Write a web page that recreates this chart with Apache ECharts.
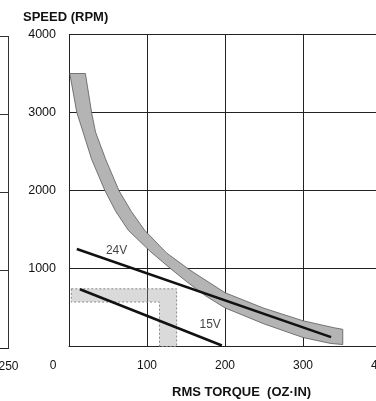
<!DOCTYPE html>
<html>
<head>
<meta charset="utf-8">
<script src="https://cdn.jsdelivr.net/npm/echarts@6/dist/echarts.min.js"></script>
<style>
  html, body { margin: 0; background: #fff; }
  #chart { width: 376px; height: 401px; }
</style>
</head>
<body>
<div id="chart"></div>
<script>
// shaded speed/torque band (torque oz-in, speed rpm)
var bandOuterTorque = [21, 29, 34, 47, 64, 80, 97, 125, 155, 200, 250, 300, 340, 351]
var bandOuterSpeed = [3500, 3000, 2750, 2400, 2000, 1730, 1490, 1200, 980, 690, 490, 330, 240, 220]
var bandInnerTorque = [1, 10, 18, 29, 46, 60, 76, 104, 130, 151, 175, 200, 250, 300, 335, 351]
var bandInnerSpeed = [3500, 3000, 2750, 2400, 2000, 1730, 1490, 1220, 1000, 830, 650, 495, 290, 115, 40, 25]

// dotted L-shaped zone under the 15V line
var zoneTorque = [3, 138, 138, 116, 116, 3]
var zoneSpeed = [740, 740, 0, 0, 570, 570]

// supply voltage lines
var line24Torque = [10, 336]
var line24Speed = [1250, 120]
var line15Torque = [14, 196]
var line15Speed = [734, 13]

var lineNames = ['24V', '15V']
var lineLabelTorque = [61, 181]
var lineLabelSpeed = [1225, 280]

var font = 'Liberation Sans, Arial, Helvetica, sans-serif'

function pairs(xs, ys) {
  return xs.map(function (x, i) { return [x, ys[i]] })
}

var bandPoints = pairs(bandOuterTorque, bandOuterSpeed)
  .concat(pairs(bandInnerTorque, bandInnerSpeed).reverse())
var zonePoints = pairs(zoneTorque, zoneSpeed)

function polygonSeries(points, style, z) {
  return {
    type: 'custom',
    xAxisIndex: 0,
    yAxisIndex: 0,
    z: z,
    silent: true,
    data: [0],
    renderItem: function (params, api) {
      return {
        type: 'polygon',
        shape: { points: points.map(function (p) { return api.coord(p) }) },
        style: style
      }
    }
  }
}

var chart = echarts.init(document.getElementById('chart'))

chart.setOption({
  animation: false,
  backgroundColor: '#fff',
  title: [{
    text: 'SPEED (RPM)',
    left: 23,
    top: 11,
    padding: 0,
    textStyle: { fontFamily: font, fontSize: 13, fontWeight: 'bold', color: '#111' }
  }, {
    text: 'RMS TORQUE  (OZ·IN)',
    left: 172,
    top: 386,
    padding: 0,
    textStyle: { fontFamily: font, fontSize: 13, fontWeight: 'bold', color: '#111' }
  }],
  grid: [
    { left: 69, top: 34.5, width: 312, bottom: 54.5, outerBoundsMode: 'none' },
    // neighbouring chart cut off on the left edge
    { left: -300, top: 36.5, width: 308.5, bottom: 53, outerBoundsMode: 'none' }
  ],
  xAxis: [{
    gridIndex: 0,
    type: 'value',
    min: 0,
    max: 400,
    interval: 100,
    axisLine: { show: true, lineStyle: { color: '#222', width: 1 } },
    axisTick: { show: false },
    splitLine: { show: true, lineStyle: { color: '#222', width: 1 } },
    axisLabel: {
      margin: 13,
      fontFamily: font,
      fontSize: 12,
      color: '#111',
      formatter: function (v) { return v === 0 ? '{z|0}' : String(v) },
      rich: { z: { fontFamily: font, fontSize: 12, color: '#111', padding: [0, 32, 0, 0] } }
    }
  }, {
    gridIndex: 1,
    type: 'value',
    min: 0,
    max: 250,
    interval: 250,
    axisLine: { show: true, onZero: false, lineStyle: { color: '#222', width: 1 } },
    axisTick: { show: false },
    splitLine: { show: false },
    axisLabel: {
      margin: 13,
      fontFamily: font,
      fontSize: 12,
      color: '#111',
      formatter: function (v) { return String(v) }
    }
  }],
  yAxis: [{
    gridIndex: 0,
    type: 'value',
    min: 0,
    max: 4000,
    interval: 1000,
    axisLine: { show: true, onZero: false, lineStyle: { color: '#222', width: 1 } },
    axisTick: { show: false },
    splitLine: { show: true, lineStyle: { color: '#222', width: 1 } },
    axisLabel: {
      showMinLabel: false,
      margin: 13,
      fontFamily: font,
      fontSize: 12.5,
      color: '#111',
      formatter: function (v) { return String(v) }
    }
  }, {
    gridIndex: 1,
    type: 'value',
    position: 'right',
    min: 0,
    max: 4000,
    interval: 1000,
    axisLine: { show: true, onZero: false, lineStyle: { color: '#333', width: 1 } },
    axisTick: { show: false },
    axisLabel: { show: false },
    splitLine: { show: true, lineStyle: { color: '#333', width: 1 } }
  }],
  series: [
    polygonSeries(zonePoints, {
      fill: 'rgba(150,150,150,0.35)',
      stroke: '#8a8a8a',
      lineWidth: 1,
      lineDash: [2, 2]
    }, 2),
    polygonSeries(bandPoints, {
      fill: '#b4b4b4',
      stroke: '#5a5a5a',
      lineWidth: 0.8
    }, 3),
    {
      name: '24V',
      type: 'line',
      data: pairs(line24Torque, line24Speed),
      symbol: 'none',
      z: 5,
      lineStyle: { color: '#111', width: 2.5 }
    },
    {
      name: '15V',
      type: 'line',
      data: pairs(line15Torque, line15Speed),
      symbol: 'none',
      z: 5,
      lineStyle: { color: '#111', width: 2.5 }
    },
    {
      type: 'scatter',
      symbolSize: 0,
      silent: true,
      z: 6,
      data: lineNames.map(function (n, i) {
        return { name: n, value: [lineLabelTorque[i], lineLabelSpeed[i]] }
      }),
      label: {
        show: true,
        position: 'inside',
        formatter: '{b}',
        fontFamily: font,
        fontSize: 12,
        color: '#111'
      }
    }
  ]
})
</script>
</body>
</html>
